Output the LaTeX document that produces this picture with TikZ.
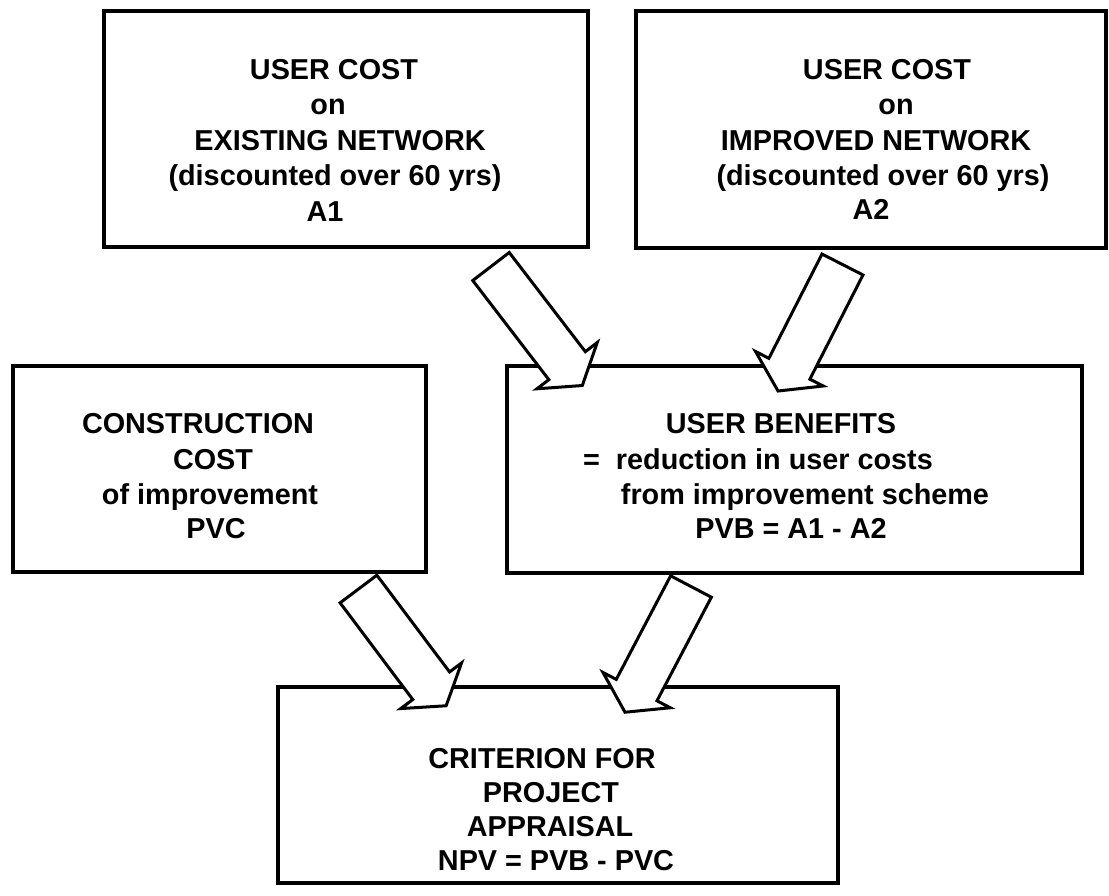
\documentclass[tikz,border=0pt]{standalone}
\usepackage{fontspec}
\setmainfont{Liberation Sans}
\tikzset{
  box/.style={draw, line width=3.5pt, rectangle, inner sep=0pt},
  lbl/.style={anchor=base, inner sep=0pt, font=\fontsize{28.8}{34}\selectfont\bfseries},
  barrow/.style={draw, fill=white, line width=3pt, line join=miter},
}
\newcommand\blockarrow[3]{% #1 tail coordinate, #2 angle, #3 shaft length
  \begin{scope}[shift={(#1)}, rotate=#2]
    \draw[barrow] (0,-23) -- (#3,-23) -- (#3,-38) -- ({#3+25},0) -- (#3,38) -- (#3,23) -- (0,23) -- cycle;
  \end{scope}}
\begin{document}
\begin{tikzpicture}[x=1pt,y=-1pt]
  \useasboundingbox (0,0) rectangle (1109,895);
  % boxes
  \node[box, minimum width=484pt, minimum height=236pt] (a1) at (346,129) {};
  \node[box, minimum width=470pt, minimum height=237pt] (a2) at (871,129.5) {};
  \node[box, minimum width=413pt, minimum height=206pt] (pvc) at (219.5,469) {};
  \node[box, minimum width=575pt, minimum height=207pt] (pvb) at (794.5,469.5) {};
  \node[box, minimum width=560pt, minimum height=196pt] (npv) at (558,785) {};
  % block arrows
  \coordinate (t1) at (491,266.5);
  \coordinate (t2) at (842.5,264.5);
  \coordinate (t3) at (358.5,589);
  \coordinate (t4) at (691,586.5);
  \blockarrow{t1}{-52.5}{125}
  \blockarrow{t2}{-117}{117}
  \blockarrow{t3}{-53.1}{121}
  \blockarrow{t4}{-117.7}{117}
  % texts A1
  \node[lbl] (a1l1) at (334,79) {USER COST};
  \node[lbl] (a1l2) at (328,114) {on};
  \node[lbl] (a1l3) at (340,150) {EXISTING NETWORK};
  \node[lbl] (a1l4) at (335,185) {(discounted over 60 yrs)};
  \node[lbl] (a1l5) at (325,221) {A1};
  % texts A2
  \node[lbl] (a2l1) at (887,79) {USER COST};
  \node[lbl] (a2l2) at (896,114) {on};
  \node[lbl] (a2l3) at (876,150) {IMPROVED NETWORK};
  \node[lbl] (a2l4) at (883,185) {(discounted over 60 yrs)};
  \node[lbl] (a2l5) at (871,219) {A2};
  % texts PVC
  \node[lbl] (c1) at (198,433) {CONSTRUCTION};
  \node[lbl] (c2) at (213,469) {COST};
  \node[lbl] (c3) at (210,504) {of improvement};
  \node[lbl] (c4) at (216,538) {PVC};
  % texts PVB
  \node[lbl] (b1) at (781,433) {USER BENEFITS};
  \node[lbl] (b2) at (758,469) {=\ \ reduction in user costs};
  \node[lbl] (b3) at (805,504) {from improvement scheme};
  \node[lbl] (b4) at (791,538) {PVB = A1 - A2};
  % texts NPV
  \node[lbl] (n1) at (542,768) {CRITERION FOR};
  \node[lbl] (n2) at (551,802) {PROJECT};
  \node[lbl] (n3) at (550,836) {APPRAISAL};
  \node[lbl] (n4) at (556,870) {NPV = PVB - PVC};
\end{tikzpicture}
\end{document}
